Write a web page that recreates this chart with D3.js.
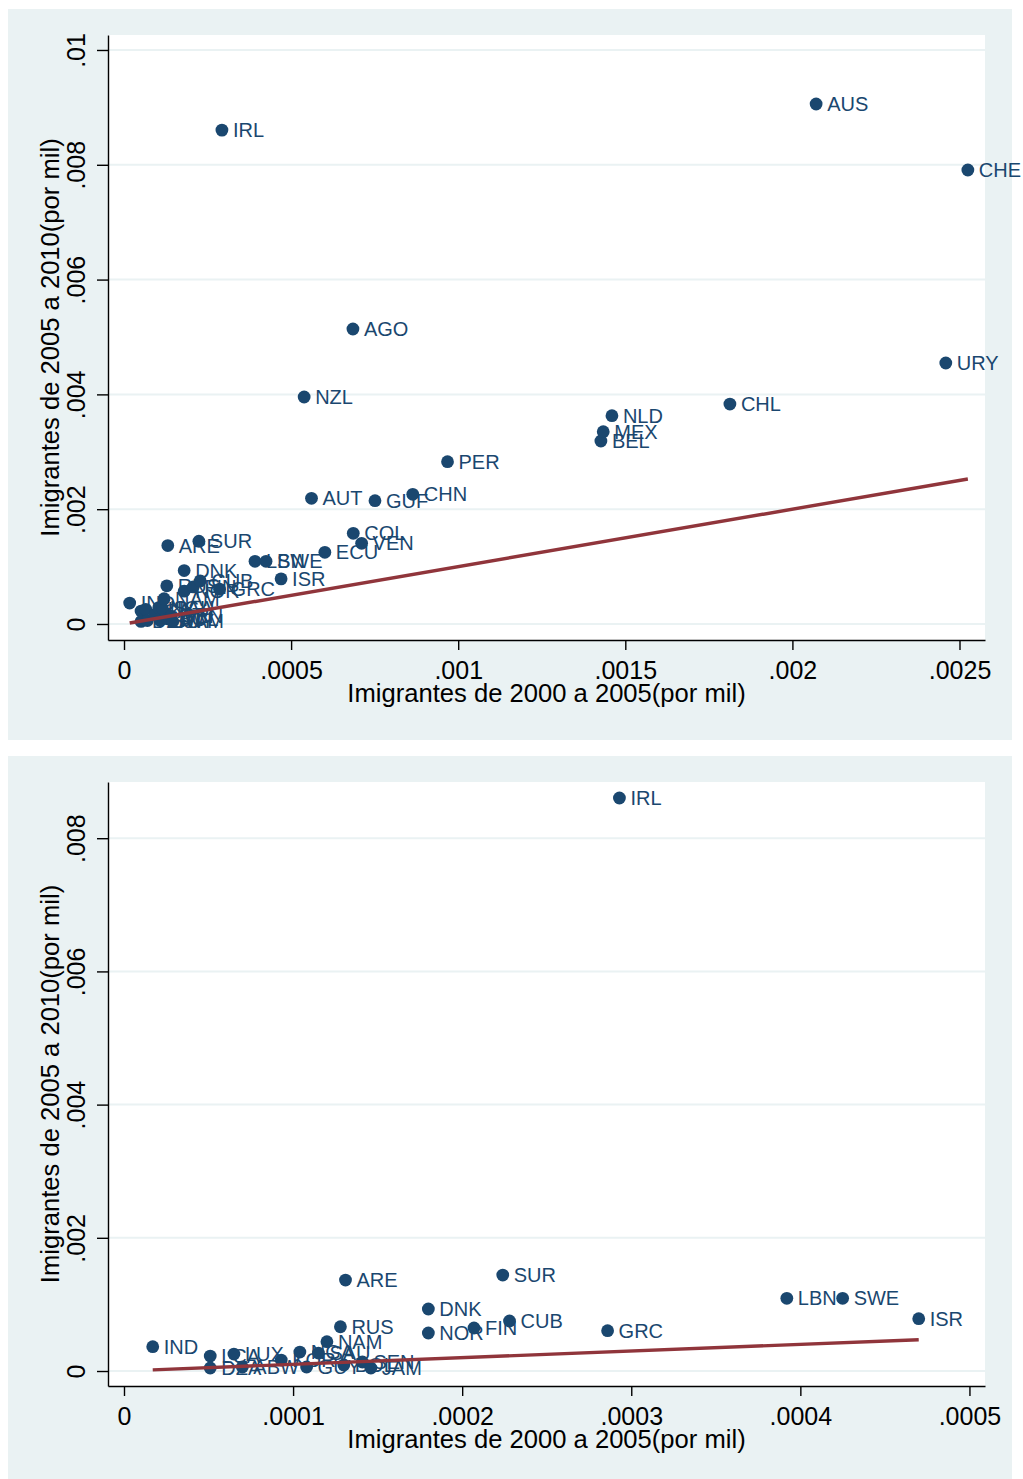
<!DOCTYPE html>
<html>
<head>
<meta charset="utf-8">
<script src="https://cdn.jsdelivr.net/npm/d3@7"></script>
<style>
  body { margin: 0; background: #ffffff; }
  svg { display: block; }
  text { font-family: "Liberation Sans", Arial, sans-serif; }
</style>
</head>
<body>
<svg id="chart" width="1023" height="1479"></svg>
<script>
// Immigrants per thousand, by country: 2000-2005 (x) against 2005-2010 (y)
const countries = [
  "AUS","IRL","CHE","AGO","URY","NZL","CHL","NLD","MEX","BEL",
  "PER","CHN","AUT","GUF","COL","VEN","ECU","SUR","ARE","LBN",
  "SWE","DNK","ISR","CUB","RUS","FIN","GRC","NOR","NAM","IND",
  "NGA","SAU","LUX","LCA","KOR","SEN","BOL","ABW","GUY","DZA","JAM"
];
const immig2000_2005 = [
  0.002071, 0.000293, 0.002525, 0.000685, 0.002459, 0.000539, 0.001813, 0.001460, 0.001434, 0.001427,
  0.000968, 0.000864, 0.000561, 0.000751, 0.000686, 0.000711, 0.000601, 0.000224, 0.000131, 0.000392,
  0.000425, 0.000180, 0.000470, 0.000228, 0.000128, 0.000207, 0.000286, 0.000180, 0.000120, 0.000017,
  0.000104, 0.000115, 0.000065, 0.000051, 0.000093, 0.000141, 0.000130, 0.000070, 0.000108, 0.000051, 0.000146
];
const immig2005_2010 = [
  0.009059, 0.008604, 0.007909, 0.005139, 0.004547, 0.003954, 0.003832, 0.003629, 0.003350, 0.003188,
  0.002827, 0.002259, 0.002189, 0.002148, 0.001580, 0.001406, 0.001249, 0.001441, 0.001366, 0.001092,
  0.001092, 0.000931, 0.000786, 0.000751, 0.000665, 0.000646, 0.000605, 0.000571, 0.000440, 0.000365,
  0.000285, 0.000270, 0.000255, 0.000225, 0.000165, 0.000135, 0.000090, 0.000060, 0.000060, 0.000045, 0.000045
];

// Fitted line end points for each panel
const fitAllX = [0.000017, 0.002525];
const fitAllY = [0.000017, 0.002525];
const fitSubX = [0.000017, 0.000470];
const fitSubY = [0.000017, 0.000470];

// Subset shown in the lower panel
const subsetMaxX = 0.0005;

// Axis ticks and their labels
const xTicksAll = [0, 0.0005, 0.001, 0.0015, 0.002, 0.0025];
const xTickLabelsAll = ["0", ".0005", ".001", ".0015", ".002", ".0025"];
const yTicksAll = [0, 0.002, 0.004, 0.006, 0.008, 0.01];
const yTickLabelsAll = ["0", ".002", ".004", ".006", ".008", ".01"];
const xTicksSub = [0, 0.0001, 0.0002, 0.0003, 0.0004, 0.0005];
const xTickLabelsSub = ["0", ".0001", ".0002", ".0003", ".0004", ".0005"];
const yTicksSub = [0, 0.002, 0.004, 0.006, 0.008];
const yTickLabelsSub = ["0", ".002", ".004", ".006", ".008"];

const xTitle = "Imigrantes de 2000 a 2005(por mil)";
const yTitle = "Imigrantes de 2005 a 2010(por mil)";

const BG = "#eaf2f3";
const MARKER = "#1a476f";
const FIT = "#90353b";

const svg = d3.select("#chart");

const rows = countries.map((c, i) => ({ code: c, x: immig2000_2005[i], y: immig2005_2010[i] }));

function drawPanel(cfg) {
  const g = svg.append("g");
  g.append("rect")
    .attr("x", cfg.bg[0]).attr("y", cfg.bg[1])
    .attr("width", cfg.bg[2]).attr("height", cfg.bg[3])
    .attr("fill", BG);

  const { left, right, top, bottom } = cfg.plot;
  g.append("rect")
    .attr("x", left).attr("y", top)
    .attr("width", right - left).attr("height", bottom - top)
    .attr("fill", "#ffffff");

  const x = d3.scaleLinear().domain(cfg.xDomain).range([left, right]);
  const y = d3.scaleLinear().domain(cfg.yDomain).range([bottom, top]);

  // horizontal grid
  g.append("g").selectAll("line")
    .data(cfg.yTicks).join("line")
    .attr("x1", left).attr("x2", right)
    .attr("y1", d => y(d)).attr("y2", d => y(d))
    .attr("stroke", BG).attr("stroke-width", 2);

  // points with labels, drawn left to right
  const pts = cfg.data.slice().sort((a, b) => a.x - b.x);
  const pg = g.append("g").selectAll("g").data(pts).join("g");
  pg.append("circle")
    .attr("cx", d => x(d.x)).attr("cy", d => y(d.y))
    .attr("r", 6.4).attr("fill", MARKER);
  pg.append("text")
    .attr("x", d => x(d.x) + 11).attr("y", d => y(d.y) + 7)
    .attr("font-size", 20).attr("fill", MARKER)
    .text(d => d.code);

  // fitted line
  const line = d3.line().x(d => x(d[0])).y(d => y(d[1]));
  g.append("path")
    .datum(cfg.fitX.map((v, i) => [v, cfg.fitY[i]]))
    .attr("d", line)
    .attr("fill", "none").attr("stroke", FIT).attr("stroke-width", 3.4);

  // x axis
  const xa = g.append("g").attr("transform", `translate(0,${bottom})`)
    .call(d3.axisBottom(x).tickValues(cfg.xTicks)
      .tickFormat((d, i) => cfg.xLabels[i]).tickSize(10).tickSizeOuter(0));
  xa.select(".domain").attr("stroke", "#000").attr("stroke-width", 1.4);
  xa.selectAll(".tick line").attr("stroke", "#000").attr("stroke-width", 1.4);
  xa.selectAll(".tick text")
    .attr("y", 38.5).attr("dy", 0)
    .attr("font-size", 25).attr("fill", "#000")
    .attr("font-family", '"Liberation Sans", Arial, sans-serif');

  // y axis
  const ya = g.append("g").attr("transform", `translate(${left},0)`)
    .call(d3.axisLeft(y).tickValues(cfg.yTicks)
      .tickFormat((d, i) => cfg.yLabels[i]).tickSize(11).tickSizeOuter(0));
  ya.select(".domain").attr("stroke", "#000").attr("stroke-width", 1.4);
  ya.selectAll(".tick line").attr("stroke", "#000").attr("stroke-width", 1.4);
  ya.selectAll(".tick text")
    .attr("transform", "rotate(-90)")
    .attr("x", 0).attr("y", -23).attr("dy", 0)
    .attr("text-anchor", "middle")
    .attr("font-size", 25).attr("fill", "#000")
    .attr("font-family", '"Liberation Sans", Arial, sans-serif');

  // axis titles
  g.append("text")
    .attr("x", (left + right) / 2).attr("y", bottom + 62)
    .attr("text-anchor", "middle").attr("font-size", 25.6).attr("fill", "#000")
    .text(xTitle);
  g.append("text")
    .attr("transform", `translate(59,${(top + bottom) / 2}) rotate(-90)`)
    .attr("text-anchor", "middle").attr("font-size", 25.6).attr("fill", "#000")
    .text(yTitle);
}

drawPanel({
  bg: [8, 9, 1004, 731],
  plot: { left: 108, right: 985, top: 35, bottom: 640 },
  xDomain: [-0.0000479, 0.0025763],
  yDomain: [-0.000279, 0.010261],
  xTicks: xTicksAll, xLabels: xTickLabelsAll,
  yTicks: yTicksAll, yLabels: yTickLabelsAll,
  data: rows,
  fitX: fitAllX, fitY: fitAllY
});

drawPanel({
  bg: [8, 756, 1004, 723],
  plot: { left: 108, right: 985, top: 782, bottom: 1386 },
  xDomain: [-0.00000946, 0.0005092],
  yDomain: [-0.000225, 0.008844],
  xTicks: xTicksSub, xLabels: xTickLabelsSub,
  yTicks: yTicksSub, yLabels: yTickLabelsSub,
  data: rows.filter(d => d.x < subsetMaxX),
  fitX: fitSubX, fitY: fitSubY
});
</script>
</body>
</html>
